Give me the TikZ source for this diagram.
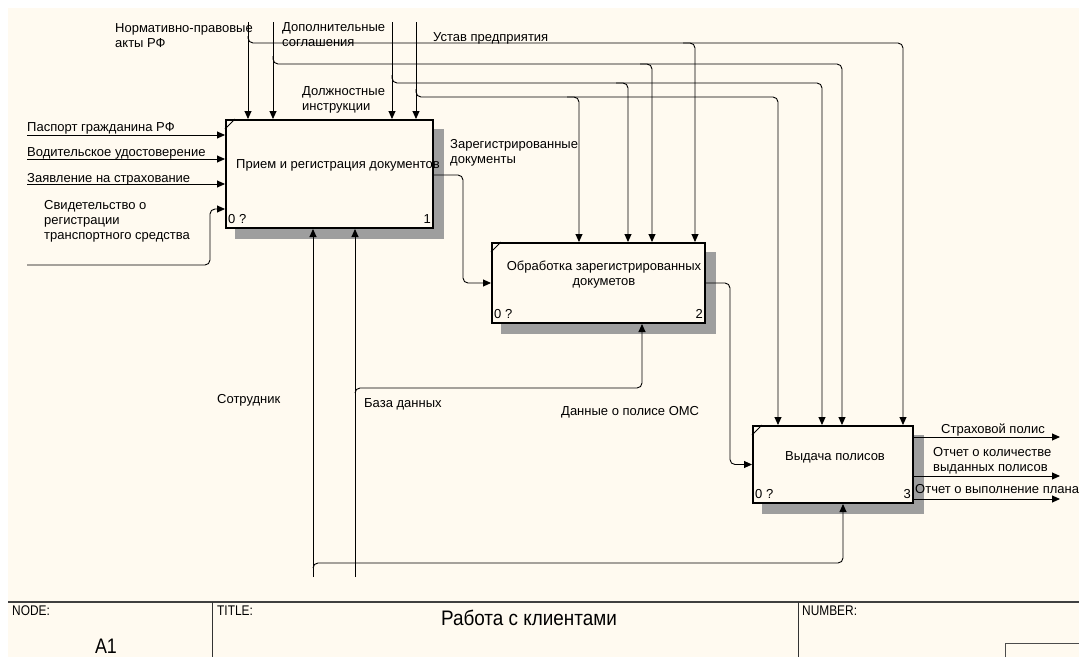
\documentclass[tikz,border=0pt]{standalone}
\usepackage{fontspec}
\setmainfont{Liberation Sans}
\newfontfamily\narrowfont[FakeStretch=0.85]{Liberation Sans}
\newfontfamily\titlefont[FakeStretch=0.9]{Liberation Sans}
\usepackage{xcolor}
\usepackage{tikz}
\usetikzlibrary{calc, arrows.meta}
\pgfdeclarelayer{background}
\pgfsetlayers{background,main}
\definecolor{paper}{RGB}{255,250,240}
\tikzstyle{func}     = [rectangle, draw=black, line width=2pt, fill=paper, inner sep=0pt]
\tikzstyle{boxshade} = [fill=black!38]
\tikzstyle{arrow}    = [line width=0.9pt, rounded corners=5pt, -{Triangle[length=8pt,width=7pt]}]
\tikzstyle{lbl}      = [inner sep=0pt, font=\fontsize{13}{15}\selectfont]
\tikzstyle{corner}   = [line width=1pt]

\begin{document}
\begin{tikzpicture}[x=1pt, y=-1pt]
    \useasboundingbox (0,0) rectangle (1088,657);

    % functions
    \node (box1) [func, minimum width=207pt, minimum height=108pt] at (329.5,174) {};
    \node (box2) [func, minimum width=213pt, minimum height=80pt]  at (598.5,283) {};
    \node (box3) [func, minimum width=160pt, minimum height=77pt]  at (833,464.5) {};

    \node (t1) [lbl] at (338,165) {Прием и регистрация документов};
    \node (t2) [lbl, align=center] at (604,275) {Обработка зарегистрированных\\докуметов};
    \node (t3) [lbl] at (835,457) {Выдача полисов};

    \foreach \b/\n in {box1/1, box2/2, box3/3} {
      \draw [corner] ($(\b.north west)+(0,10)$) -- ($(\b.north west)+(10,0)$);
      \node (\b-q) [lbl, anchor=base west] at ($(\b.south west)+(3,-6)$) {0 ?};
      \node (\b-n) [lbl, anchor=base east] at ($(\b.south east)+(-3,-6)$) {\n};
    }

    % free ends
    \coordinate (in1) at (27,135);
    \coordinate (in2) at (27,159);
    \coordinate (in3) at (27,184);
    \coordinate (in4) at (27,265);
    \coordinate (in4b) at (210,209);
    \coordinate (c1) at (248,22);
    \coordinate (c2) at (273,22);
    \coordinate (c3) at (392,22);
    \coordinate (c4) at (416,22);
    \coordinate (r1) at (903,43);
    \coordinate (r2) at (842,64);
    \coordinate (r3) at (822,83);
    \coordinate (r4) at (778,97);
    \coordinate (b1) at (695,43);
    \coordinate (b2) at (652,64);
    \coordinate (b3) at (628,83);
    \coordinate (b4) at (579,97);
    \coordinate (k1) at (463,175);
    \coordinate (k2) at (730,283);
    \coordinate (k3) at (843,563);
    \coordinate (k4) at (642,388);
    \coordinate (m1) at (313,577);
    \coordinate (m2) at (355,577);
    \coordinate (out1) at (1060,437);
    \coordinate (out2) at (1060,476);
    \coordinate (out3) at (1060,499);

    % inputs
    \draw [arrow] (in1) -- (box1.west |- in1);
    \draw [arrow] (in2) -- (box1.west |- in2);
    \draw [arrow] (in3) -- (box1.west |- in3);
    \draw [arrow] (in4) -| (in4b) -- (box1.west |- in4b);

    % controls
    \foreach \c in {c1, c2, c3, c4}
      \draw [arrow] (\c) -- (\c |- box1.north);
    \draw [arrow] ($(c1)+(0,14)$) |- (r1) -- (r1 |- box3.north);
    \draw [arrow] ($(c2)+(0,34)$) |- (r2) -- (r2 |- box3.north);
    \draw [arrow] ($(c3)+(0,53)$) |- (r3) -- (r3 |- box3.north);
    \draw [arrow] ($(c4)+(0,67)$) |- (r4) -- (r4 |- box3.north);
    \foreach \b in {b1, b2, b3, b4}
      \draw [arrow] ($(\b)+(-12,0)$) -| (\b |- box2.north);

    % outputs
    \draw [arrow] (box1.east |- k1) -- (k1) |- (box2.west);
    \draw [arrow] (box2.east) -- (k2) |- (box3.west);
    \draw [arrow] (box3.east |- out1) -- (out1);
    \draw [arrow] (box3.east |- out2) -- (out2);
    \draw [arrow] (box3.east |- out3) -- (out3);

    % mechanisms
    \draw [arrow] (m1) -- (m1 |- box1.south);
    \draw [arrow] (m2) -- (m2 |- box1.south);
    \draw [arrow] ($(m1)+(0,-9)$) |- (k3) -- (k3 |- box3.south);
    \draw [arrow] ($(m2)+(0,-184)$) |- (k4) -- (k4 |- box2.south);

    % arrow labels
    \node (l-nrm)  [lbl, anchor=north west, align=left] at (115,23) {Нормативно-правовые\\акты РФ};
    \node (l-dop)  [lbl, anchor=north west, align=left] at (282,22) {Дополнительные\\соглашения};
    \node (l-ust)  [lbl, anchor=base west] at (433,41) {Устав предприятия};
    \node (l-dol)  [lbl, anchor=north west, align=left] at (302,86) {Должностные\\инструкции};
    \node (l-pas)  [lbl, anchor=base west] at (27,131) {Паспорт гражданина РФ};
    \node (l-vod)  [lbl, anchor=base west] at (27,156) {Водительское удостоверение};
    \node (l-zay)  [lbl, anchor=base west] at (27,182) {Заявление на страхование};
    \node (l-svd)  [lbl, anchor=north west, align=left] at (44,200) {Свидетельство о\\регистрации\\транспортного средства};
    \node (l-reg)  [lbl, anchor=north west, align=left] at (450,139) {Зарегистрированные\\документы};
    \node (l-pol)  [lbl, anchor=base east] at (1045,433) {Страховой полис};
    \node (l-kol)  [lbl, anchor=north west, align=left] at (933,447) {Отчет о количестве\\выданных полисов};
    \node (l-pln)  [lbl, anchor=base west] at (915,493) {Отчет о выполнение плана};
    \node (l-sot)  [lbl, anchor=base west] at (217,403) {Сотрудник};
    \node (l-bd)   [lbl, anchor=base west] at (364,407) {База данных};
    \node (l-oms)  [lbl, anchor=base west] at (561,415) {Данные о полисе ОМС};

    % frame
    \draw [line width=1.2pt, black!75] (8,602) -- (1079,602);
    \draw [line width=1pt, black!80] (212,602) -- (212,657);
    \draw [line width=1pt, black!80] (798,602) -- (798,657);
    \draw [line width=1pt, black!70] (1005,657) |- (1079,643);
    \node (f-node)  [lbl, anchor=base west, font=\narrowfont\fontsize{14}{16}\selectfont] at (12,615) {NODE:};
    \node (f-title) [lbl, anchor=base west, font=\narrowfont\fontsize{14}{16}\selectfont] at (217,615) {TITLE:};
    \node (f-num)   [lbl, anchor=base west, font=\narrowfont\fontsize{14}{16}\selectfont] at (802,615) {NUMBER:};
    \node (f-a1)    [lbl, anchor=base, font=\narrowfont\fontsize{21}{24}\selectfont] at (106,653) {A1};
    \node (f-name)  [lbl, anchor=base, font=\titlefont\fontsize{21}{24}\selectfont] at (529,625) {Работа с клиентами};

    \begin{pgfonlayer}{background}
      \fill [white] (0,0) rectangle (1088,657);
      \fill [paper] (8,8) rectangle (1079,657);
      \foreach \b in {box1, box2, box3}
        \fill [boxshade] ($(\b.north west)+(10,10)$) rectangle ($(\b.south east)+(10,10)$);
    \end{pgfonlayer}

  \end{tikzpicture}
\end{document}
